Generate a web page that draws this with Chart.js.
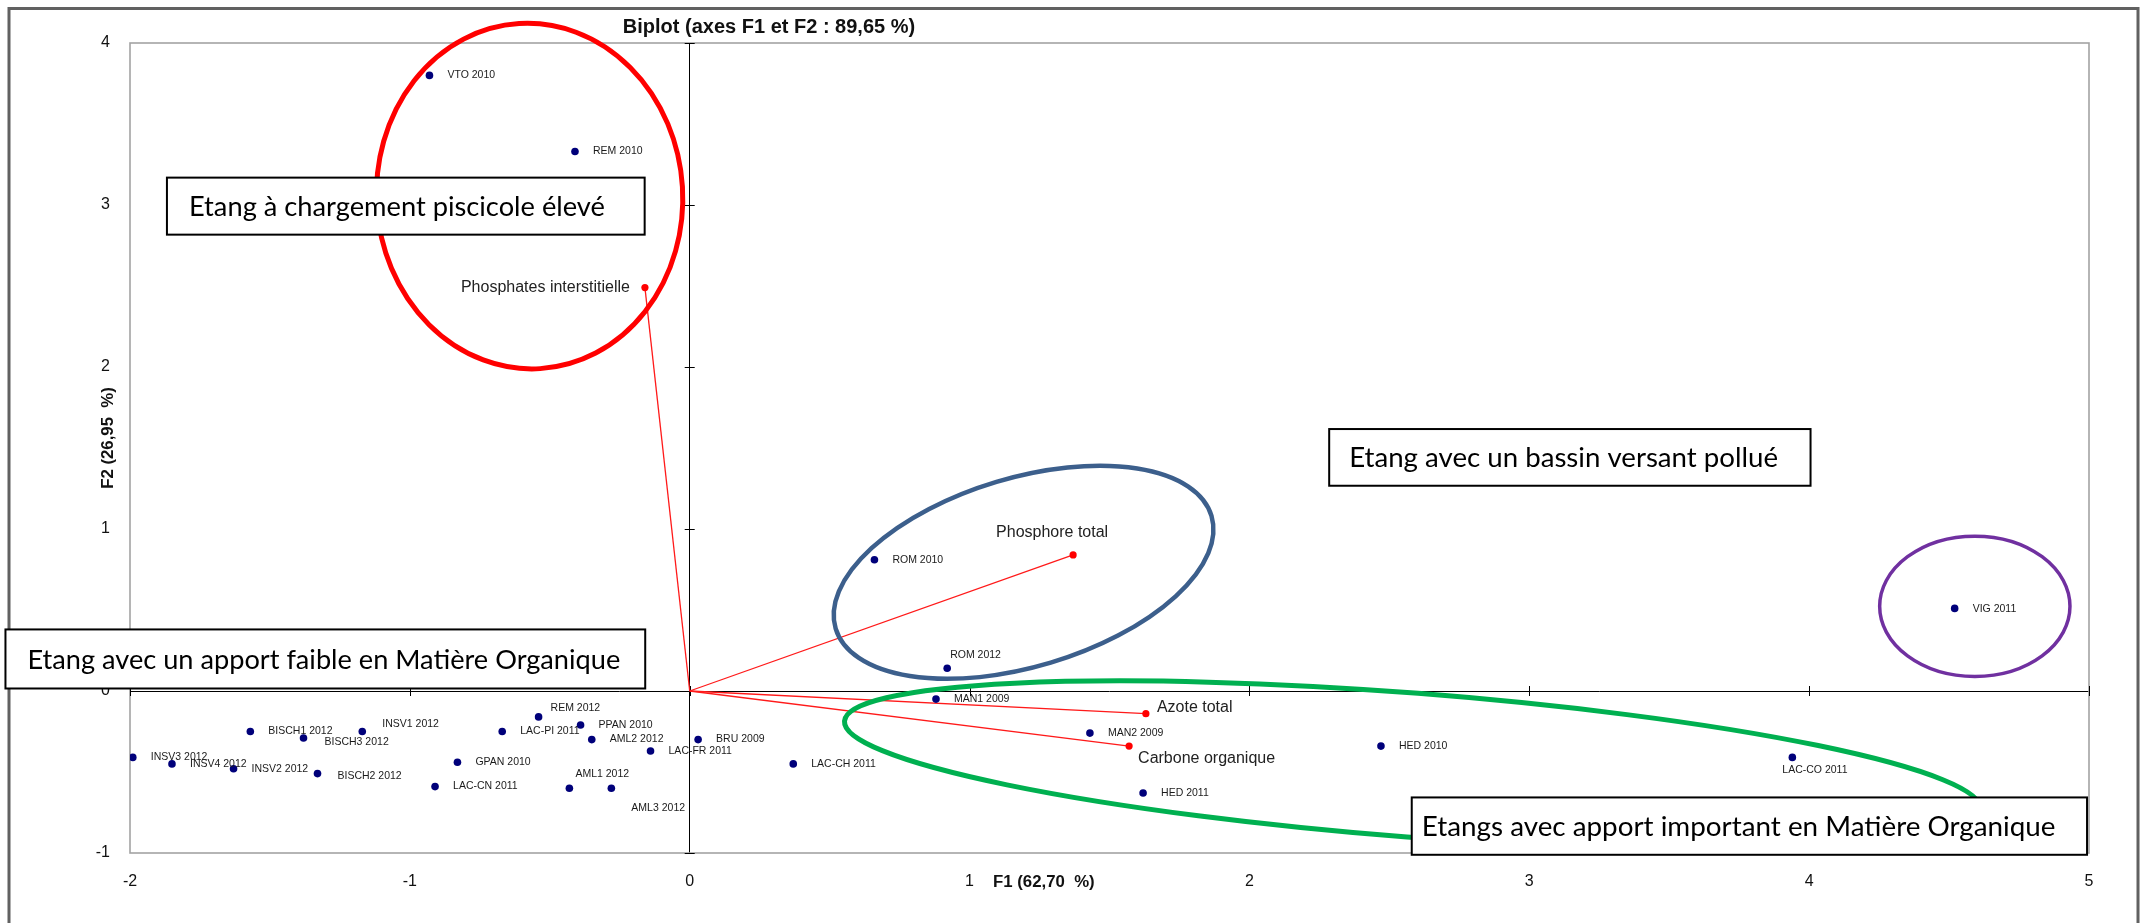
<!DOCTYPE html>
<html>
<head>
<meta charset="utf-8">
<script src="https://cdn.jsdelivr.net/npm/chart.js@4.4.1/dist/chart.umd.min.js"></script>
<style>
  html, body { margin: 0; padding: 0; background: #ffffff; }
  #wrap { position: relative; width: 2145px; height: 923px; }
</style>
</head>
<body>
<div id="wrap"><canvas id="biplot" width="2145" height="923"></canvas></div>
<script>
// Observations (ponds / years) on the first two factorial axes
const obsNames = [
  'VTO 2010', 'REM 2010', 'ROM 2010', 'ROM 2012', 'VIG 2011',
  'MAN1 2009', 'MAN2 2009', 'HED 2010', 'HED 2011', 'LAC-CO 2011',
  'LAC-CH 2011', 'BRU 2009', 'LAC-FR 2011', 'AML2 2012', 'PPAN 2010',
  'REM 2012', 'LAC-PI 2011', 'AML1 2012', 'AML3 2012', 'GPAN 2010',
  'LAC-CN 2011', 'INSV1 2012', 'BISCH3 2012', 'BISCH1 2012', 'BISCH2 2012',
  'INSV2 2012', 'INSV4 2012', 'INSV3 2012'
];
const obsF1 = [
  -0.93, -0.41, 0.66, 0.92, 4.52,
  0.88, 1.43, 2.47, 1.62, 3.94,
  0.37, 0.03, -0.14, -0.35, -0.39,
  -0.54, -0.67, -0.43, -0.28, -0.83,
  -0.91, -1.17, -1.38, -1.57, -1.33,
  -1.63, -1.85, -1.99
];
const obsF2 = [
  3.80, 3.33, 0.81, 0.14, 0.51,
  -0.05, -0.26, -0.34, -0.63, -0.41,
  -0.45, -0.30, -0.37, -0.30, -0.21,
  -0.16, -0.25, -0.60, -0.60, -0.44,
  -0.59, -0.25, -0.29, -0.25, -0.51,
  -0.48, -0.45, -0.41
];

// Active variables (vectors from the origin)
const varNames = ['Phosphates interstitielle', 'Phosphore total', 'Azote total', 'Carbone organique'];
const varF1 = [-0.16, 1.37, 1.63, 1.57];
const varF2 = [2.49, 0.84, -0.14, -0.34];

// Axis ticks
const xTicks = [-2, -1, 0, 1, 2, 3, 4, 5];
const yTicks = [-1, 0, 1, 2, 3, 4];

// Group outlines (centre and radii in axis units, tilt in degrees)
const groupEllipses = [
  { cx: -0.572, cy: 3.055, rx: 0.547, ry: 1.067, rot: -3.5, color: '#ff0000', width: 5 },
  { cx: 1.193, cy: 0.733, rx: 0.701, ry: 0.583, rot: -16.7, color: '#3c5f8c', width: 4.5 },
  { cx: 2.583, cy: -0.458, rx: 2.036, ry: 0.445, rot: 4.44, color: '#00b050', width: 5 },
  { cx: 4.592, cy: 0.523, rx: 0.340, ry: 0.433, rot: 0, color: '#7030a0', width: 3.5 }
];

// Group captions (box corners in axis units)
const groupBoxes = [
  { text: 'Etang à chargement piscicole élevé', x0: -1.868, x1: -0.161, y0: 3.169, y1: 2.817, textW: 416, pad: 22 },
  { text: 'Etang avec un apport faible en Matière Organique', x0: -2.445, x1: -0.159, y0: 0.380, y1: 0.0155, textW: 593, pad: 22 },
  { text: 'Etang avec un bassin versant pollué', x0: 2.285, x1: 4.005, y0: 1.617, y1: 1.267, textW: 429, pad: 20 },
  { text: 'Etangs avec apport important en Matière Organique', x0: 2.580, x1: 4.993, y0: -0.657, y1: -1.011, textW: 634, pad: 10 }
];

// Label placement relative to each point
const obsLabelDefault = { dx: 18, dy: 0 };
const obsLabelPlace = {
  'REM 2012': { dx: 12, dy: -9 },
  'AML1 2012': { dx: 6, dy: -14 },
  'AML3 2012': { dx: 20, dy: 20 },
  'INSV1 2012': { dx: 20, dy: -7 },
  'BISCH3 2012': { dx: 21, dy: 4 },
  'BISCH2 2012': { dx: 20, dy: 2 },
  'ROM 2012': { dx: 3, dy: -13 },
  'LAC-CO 2011': { dx: -10, dy: 13 },
  'VIG 2011': { dx: 18, dy: 1 }
};
const varLabelPlace = {
  'Phosphates interstitielle': { dx: -15, dy: 0, align: 'right' },
  'Phosphore total': { dx: -21, dy: -22, align: 'center' },
  'Azote total': { dx: 11, dy: -6, align: 'left' },
  'Carbone organique': { dx: 9, dy: 13, align: 'left' }
};

const FONT = 'Liberation Sans, Arial, sans-serif';

const obsPoints = obsNames.map((n, i) => ({ x: obsF1[i], y: obsF2[i] }));
const vectorSets = varNames.map((n, i) => ({
  label: n,
  data: [{ x: 0, y: 0 }, { x: varF1[i], y: varF2[i] }],
  showLine: true,
  borderColor: '#ff1a1a',
  borderWidth: 1.3,
  pointRadius: [0, 3.6],
  pointBackgroundColor: '#ff0000',
  pointBorderWidth: 0,
  order: 2
}));

// Frame, zero-axis ticks and the outer border
const framePlugin = {
  id: 'frame',
  beforeDatasetsDraw(chart) {
    const { ctx, chartArea: a, scales: { x, y } } = chart;
    ctx.save();
    ctx.strokeStyle = '#a3a3a3';
    ctx.lineWidth = 1.6;
    ctx.strokeRect(a.left, a.top, a.right - a.left, a.bottom - a.top);
    const x0 = x.getPixelForValue(0);
    const y0 = y.getPixelForValue(0);
    ctx.strokeStyle = '#000000';
    ctx.lineWidth = 1;
    ctx.beginPath();
    xTicks.forEach(v => {
      const px = Math.round(x.getPixelForValue(v)) + 0.5;
      ctx.moveTo(px, y0 - 5); ctx.lineTo(px, y0 + 5);
    });
    yTicks.forEach(v => {
      const py = Math.round(y.getPixelForValue(v)) + 0.5;
      ctx.moveTo(x0 - 5, py); ctx.lineTo(x0 + 5, py);
    });
    ctx.stroke();
    ctx.restore();
  },
  afterDraw(chart) {
    const { ctx } = chart;
    ctx.save();
    ctx.strokeStyle = '#616161';
    ctx.lineWidth = 3;
    ctx.strokeRect(9, 8.5, 2129, 940);
    ctx.restore();
  }
};

// Point and vector names
const labelPlugin = {
  id: 'pointLabels',
  afterDatasetsDraw(chart) {
    const { ctx } = chart;
    ctx.save();
    ctx.textBaseline = 'middle';
    ctx.fillStyle = '#1a1a1a';
    ctx.font = '10.5px ' + FONT;
    ctx.textAlign = 'left';
    chart.getDatasetMeta(0).data.forEach((el, i) => {
      const name = obsNames[i];
      const p = obsLabelPlace[name] || obsLabelDefault;
      ctx.fillText(name, el.x + p.dx, el.y + p.dy);
    });
    ctx.font = '16px ' + FONT;
    ctx.fillStyle = '#222222';
    varNames.forEach((name, i) => {
      const el = chart.getDatasetMeta(i + 1).data[1];
      const p = varLabelPlace[name];
      ctx.textAlign = p.align;
      ctx.fillText(name, el.x + p.dx, el.y + p.dy);
    });
    ctx.restore();
  }
};

// Title, axis titles, group outlines and captions
const overlayPlugin = {
  id: 'overlay',
  afterDraw(chart) {
    const { ctx, scales: { x, y } } = chart;
    ctx.save();
    ctx.fillStyle = '#111111';
    ctx.textBaseline = 'middle';
    ctx.textAlign = 'center';
    ctx.font = 'bold 20px ' + FONT;
    ctx.fillText('Biplot (axes F1 et F2 : 89,65 %)', 769, 27);
    ctx.font = 'bold 16.8px ' + FONT;
    ctx.textAlign = 'left';
    ctx.fillText('F1 (62,70  %)', 993, 882);
    ctx.save();
    ctx.translate(108, 438);
    ctx.rotate(-Math.PI / 2);
    ctx.textAlign = 'center';
    ctx.fillText('F2 (26,95  %)', 0, 0);
    ctx.restore();

    groupEllipses.forEach(e => {
      const cx = x.getPixelForValue(e.cx), cy = y.getPixelForValue(e.cy);
      const rx = Math.abs(x.getPixelForValue(e.cx + e.rx) - cx);
      const ry = Math.abs(y.getPixelForValue(e.cy + e.ry) - cy);
      ctx.beginPath();
      ctx.ellipse(cx, cy, rx, ry, e.rot * Math.PI / 180, 0, Math.PI * 2);
      ctx.strokeStyle = e.color;
      ctx.lineWidth = e.width;
      ctx.stroke();
    });

    groupBoxes.forEach(b => {
      const l = x.getPixelForValue(b.x0), r = x.getPixelForValue(b.x1);
      const t = y.getPixelForValue(b.y0), btm = y.getPixelForValue(b.y1);
      ctx.fillStyle = '#ffffff';
      ctx.fillRect(l, t, r - l, btm - t);
      ctx.strokeStyle = '#000000';
      ctx.lineWidth = 2;
      ctx.strokeRect(l, t, r - l, btm - t);
      ctx.font = '26px Lato';
      const size = 26 * b.textW / ctx.measureText(b.text).width;
      ctx.font = size.toFixed(2) + 'px Lato';
      ctx.fillStyle = '#000000';
      ctx.textAlign = 'left';
      ctx.textBaseline = 'alphabetic';
      ctx.fillText(b.text, l + b.pad, (t + btm) / 2 + size * 0.36);
    });
    ctx.restore();
  }
};

new Chart(document.getElementById('biplot'), {
  type: 'scatter',
  data: {
    datasets: [
      {
        label: 'Observations',
        data: obsPoints,
        pointRadius: 3.8,
        pointBackgroundColor: '#00007a',
        pointBorderWidth: 0,
        order: 1
      },
      ...vectorSets
    ]
  },
  options: {
    responsive: false,
    animation: false,
    devicePixelRatio: 1,
    layout: { padding: { top: 43, right: 56, left: 0, bottom: 0 } },
    plugins: {
      legend: { display: false },
      title: { display: false },
      tooltip: { enabled: false }
    },
    scales: {
      x: {
        type: 'linear',
        min: -2, max: 5,
        afterBuildTicks: s => { s.ticks = xTicks.map(v => ({ value: v })); },
        afterFit: s => { s.height = 70; },
        border: { display: false },
        grid: {
          drawTicks: false,
          lineWidth: 1,
          color: c => (c.tick && c.tick.value === 0) ? '#000000' : 'rgba(0,0,0,0)'
        },
        ticks: { padding: 19, autoSkip: false, maxRotation: 0, color: '#111111', font: { family: FONT, size: 16 } }
      },
      y: {
        type: 'linear',
        min: -1, max: 4,
        afterBuildTicks: s => { s.ticks = yTicks.map(v => ({ value: v })); },
        afterFit: s => { s.width = 130; },
        border: { display: false },
        grid: {
          drawTicks: false,
          lineWidth: 1,
          color: c => (c.tick && c.tick.value === 0) ? '#000000' : 'rgba(0,0,0,0)'
        },
        ticks: { padding: 20, autoSkip: false, color: '#111111', font: { family: FONT, size: 16 } }
      }
    }
  },
  plugins: [framePlugin, labelPlugin, overlayPlugin]
});
</script>
</body>
</html>
